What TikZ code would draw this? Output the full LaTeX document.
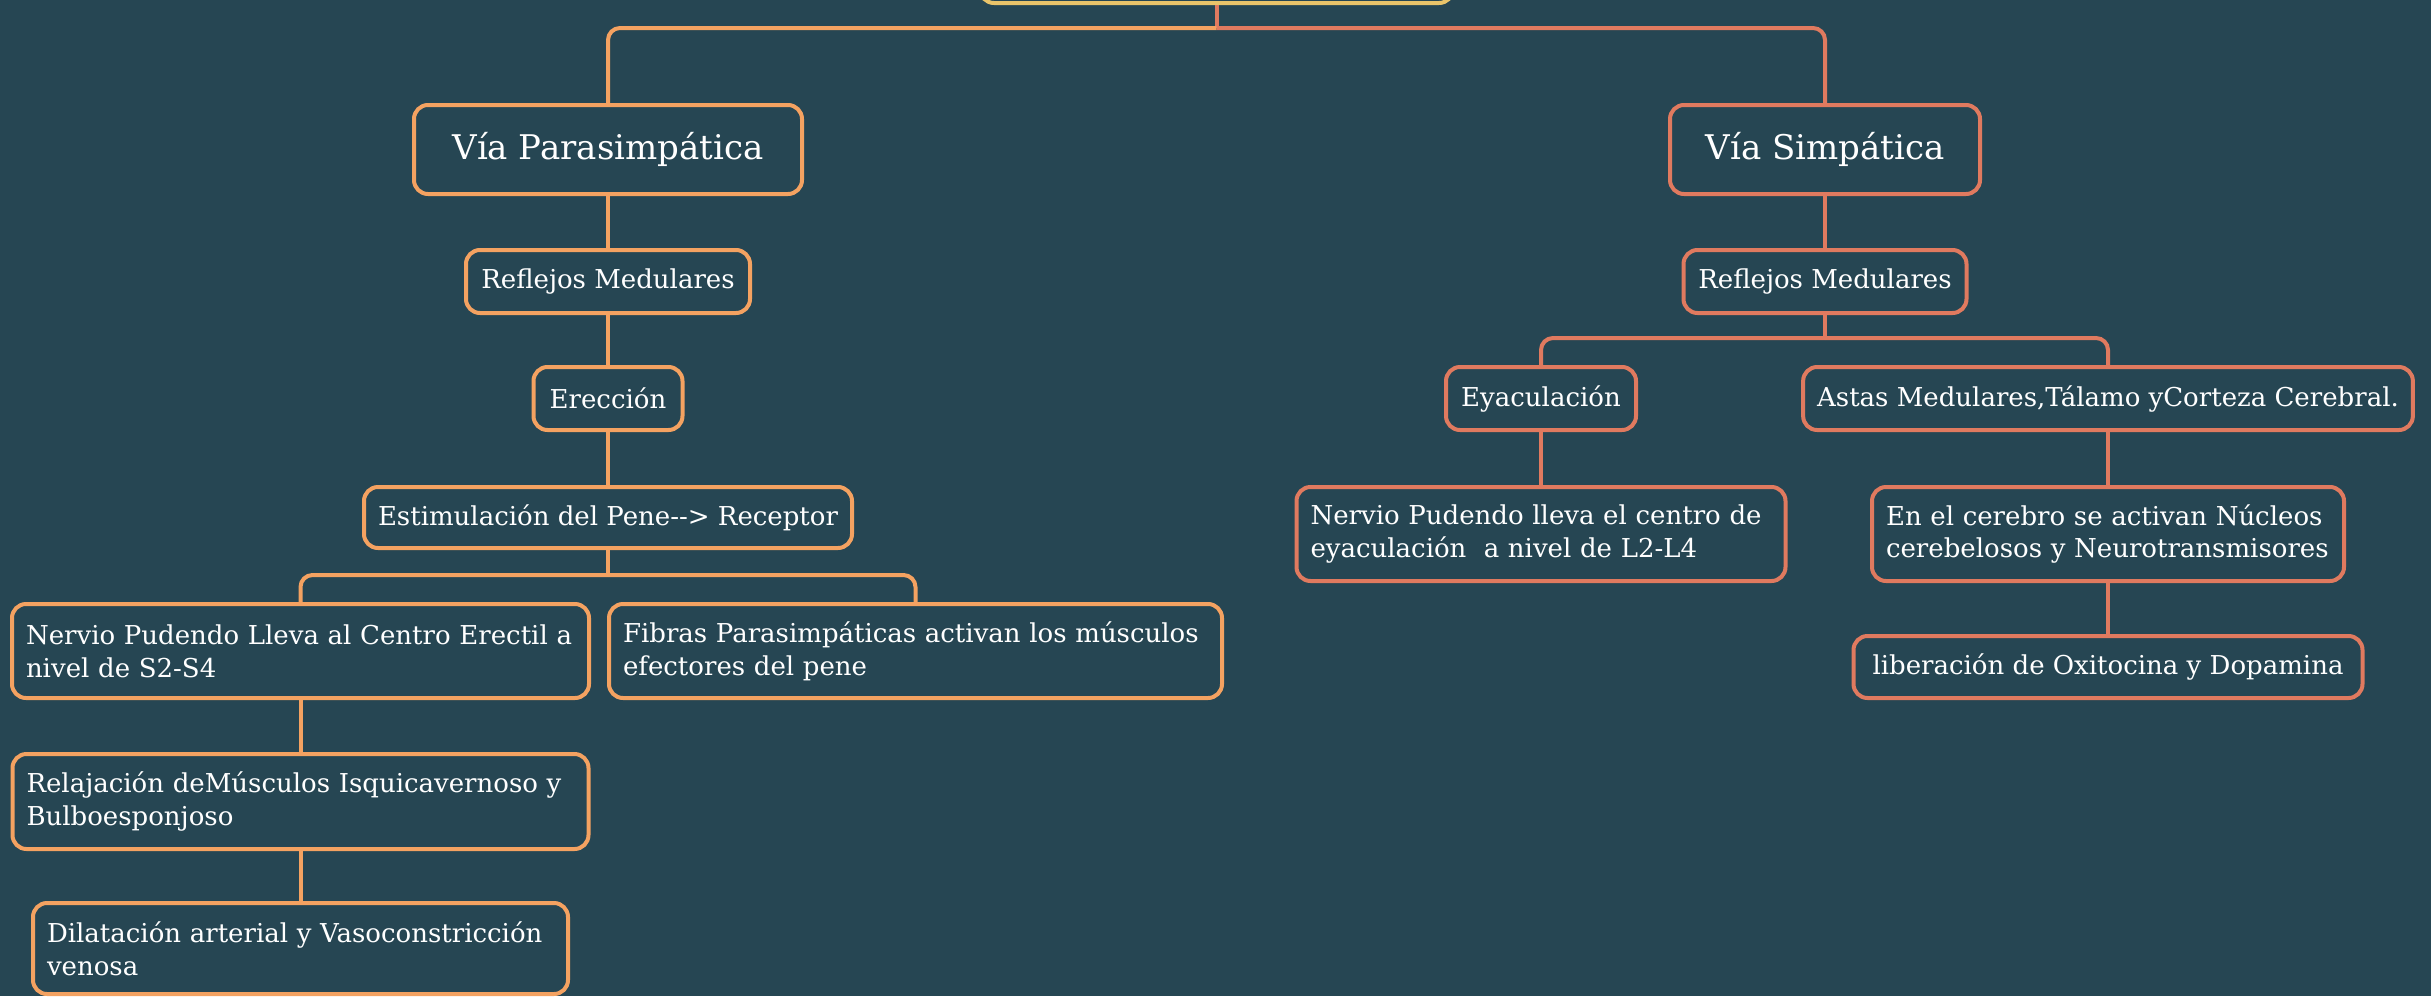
\documentclass[tikz,border=0pt]{standalone}
\usepackage{fontspec}
\setmainfont{DejaVu Serif}
\definecolor{slate}{HTML}{264653}
\definecolor{sand}{HTML}{E9C46A}
\definecolor{peach}{HTML}{F4A261}
\definecolor{salmon}{HTML}{E07A5F}
\begin{document}
\begin{tikzpicture}[x=0.5pt, y=-0.5pt,
  card/.style={draw, line width=2pt, rounded corners=7pt, fill=slate, text=white,
    inner xsep=7pt, inner ysep=0pt, font=\fontsize{13}{16.3}\selectfont},
  bigcard/.style={card, font=\fontsize{17}{20}\selectfont},
  notecard/.style={card, align=left},
  leftlink/.style={peach, line width=2pt, rounded corners=6pt},
  rightlink/.style={salmon, line width=2pt, rounded corners=6pt}]
  \fill[slate] (0,0) rectangle (2431,996);
  \useasboundingbox (0,0) rectangle (2431,996);
  % top of the map, mostly off the page
  \node[card, draw=sand, minimum width=236.5pt, minimum height=40pt] (root) at (1216.5,-37) {};
  % parasympathetic branch
  \node[bigcard, draw=peach, minimum width=194pt, minimum height=44.5pt] (para) at (608,149.5) {Vía Parasimpática};
  \node[card, draw=peach, minimum width=142pt, minimum height=31.5pt] (reflL) at (608,281.5) {Reflejos Medulares};
  \node[card, draw=peach, minimum width=74.5pt, minimum height=31.5pt] (erec) at (608,398.5) {Erección};
  \node[card, draw=peach, minimum width=241.5pt, minimum height=30.5pt] (estim) at (608,517.5) {Estimulación del Pene-{}-> Receptor};
  \node[notecard, draw=peach, text width=274.5pt, minimum height=47pt] (nervL) at (300.5,651)
    {Nervio Pudendo Lleva al Centro Erectil a\\nivel de S2-S4};
  \node[notecard, draw=peach, text width=292.5pt, minimum height=47pt] (fibras) at (915.5,651)
    {Fibras Parasimpáticas activan los músculos\\efectores del pene};
  \node[notecard, draw=peach, text width=274pt, minimum height=47.5pt] (relaj) at (300.5,801.5)
    {Relajación deMúsculos Isquicavernoso y\\Bulboesponjoso};
  \node[notecard, draw=peach, text width=253.5pt, minimum height=45.5pt] (dilat) at (300.5,948.5)
    {Dilatación arterial y Vasoconstricción\\venosa};
  % sympathetic branch
  \node[bigcard, draw=salmon, minimum width=155pt, minimum height=44.5pt] (simp) at (1825,149.5) {Vía Simpática};
  \node[card, draw=salmon, minimum width=141.5pt, minimum height=31.5pt] (reflR) at (1825,281.5) {Reflejos Medulares};
  \node[card, draw=salmon, minimum width=95pt, minimum height=31.5pt] (eyac) at (1541,398.5) {Eyaculación};
  \node[card, draw=salmon, minimum width=304pt, minimum height=31.5pt] (astas) at (2108,398.5) {Astas Medulares,Tálamo yCorteza Cerebral.};
  \node[notecard, draw=salmon, text width=230.5pt, minimum height=47pt] (nervR) at (1541,534)
    {Nervio Pudendo lleva el centro de\\eyaculación\ \ a nivel de L2-L4};
  \node[notecard, draw=salmon, text width=222pt, minimum height=47pt] (cereb) at (2108,534)
    {En el cerebro se activan Núcleos\\cerebelosos y Neurotransmisores};
  \node[card, draw=salmon, minimum width=254.5pt, minimum height=31pt] (liber) at (2108,667) {liberación de Oxitocina y Dopamina};
  % connectors
  \coordinate (hub) at (1216.5,28);
  \coordinate (hubL) at (608,575);
  \coordinate (hubR) at (1825,338);
  \draw[salmon, line width=2pt] (root.south) -- (hub);
  \draw[leftlink] (hub) -| (para.north);
  \draw[rightlink] (hub) -| (simp.north);
  \draw[leftlink] (para) -- (reflL) -- (erec) -- (estim) -- (hubL);
  \draw[leftlink] (hubL) -| (nervL.north);
  \draw[leftlink] (hubL) -| (fibras.north);
  \draw[leftlink] (nervL) -- (relaj) -- (dilat);
  \draw[rightlink] (simp) -- (reflR) -- (hubR);
  \draw[rightlink] (hubR) -| (eyac.north);
  \draw[rightlink] (hubR) -| (astas.north);
  \draw[rightlink] (eyac) -- (nervR);
  \draw[rightlink] (astas) -- (cereb) -- (liber);
\end{tikzpicture}
\end{document}
